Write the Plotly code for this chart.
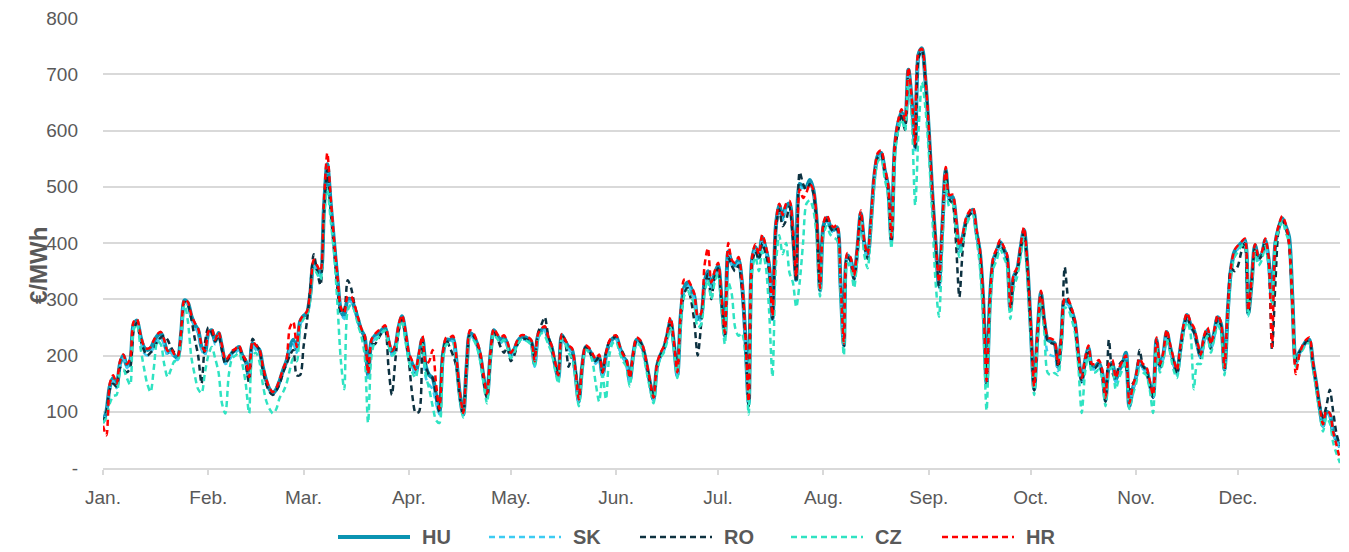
import pandas as pd
import plotly.graph_objects as go

# Daily prices 2022, €/MWh (one line per month)
hu = [
    82,100,145,160,145,185,200,182,190,255,262,235,215,210,213,225,235,240,225,205,210,200,196,240,298,293,270,255,245,215,205,
    240,245,225,240,215,190,195,205,210,215,200,190,160,222,215,210,180,156,140,133,140,155,174,190,215,228,210,260,
    270,275,310,365,355,345,460,540,470,400,335,280,270,300,300,285,265,245,233,165,225,235,240,245,250,225,205,215,250,270,240,
    200,185,170,200,230,180,165,160,130,100,200,228,228,230,190,130,95,180,240,235,222,200,160,128,200,245,235,228,232,220,
    200,210,225,232,233,230,225,185,235,245,250,230,215,185,160,236,225,215,210,170,118,180,215,210,200,190,198,165,200,222,230,
    233,215,198,190,155,200,228,225,210,182,150,122,180,200,212,235,262,220,165,270,320,330,320,305,265,270,330,350,322,345,
    360,300,235,385,365,360,370,330,235,115,370,393,375,410,390,360,265,430,467,445,465,470,418,335,505,500,500,512,495,440,316,
    430,445,430,423,428,330,218,378,370,338,390,453,400,375,440,520,555,560,530,500,405,570,613,633,613,708,650,571,735,746,690,
    600,490,400,325,430,530,480,482,440,390,411,440,453,459,420,385,300,150,300,370,385,402,390,375,281,340,352,390,423,360,
    250,140,240,311,260,228,225,222,180,230,298,295,280,258,200,155,190,213,180,180,187,170,120,180,187,156,174,185,205,110,140,
    162,190,180,175,150,127,228,180,200,242,215,190,169,210,250,272,255,245,220,198,230,245,215,240,268,255,175,280,357,385,
    393,400,405,275,330,396,375,380,405,370,298,400,428,444,430,411,300,187,205,215,225,228,187,150,108,75,100,95,62,50,37,
]
sk = [
    82,98,140,155,142,180,195,178,185,250,258,228,205,200,205,215,225,232,218,200,205,195,192,235,295,290,265,250,240,210,200,
    235,240,220,235,210,185,190,200,205,210,195,185,158,218,210,205,175,150,138,130,138,150,170,185,210,222,205,255,
    265,270,305,360,350,340,455,530,465,395,330,275,265,295,295,280,260,240,228,160,220,230,235,240,245,220,200,210,245,265,235,
    195,180,165,190,200,160,148,140,115,95,195,222,225,225,185,125,92,175,235,230,218,195,155,125,195,240,230,222,228,215,
    195,205,220,228,228,225,220,180,230,240,245,225,210,180,155,232,220,210,205,165,115,178,212,208,196,185,194,160,195,218,226,
    228,210,195,185,150,196,224,222,206,178,148,120,176,196,208,230,258,216,162,265,315,325,315,300,260,265,325,345,318,340,
    355,295,230,380,360,355,365,325,230,110,365,388,370,405,385,355,260,425,460,440,460,465,412,330,500,495,495,508,490,435,312,
    425,440,425,418,422,325,215,372,365,333,385,448,395,370,435,515,550,555,525,495,400,565,608,628,608,700,645,565,728,740,685,
    595,485,395,320,425,525,475,478,435,385,405,435,448,455,415,380,295,148,295,365,380,398,385,370,278,335,348,385,418,355,
    245,138,235,305,250,205,200,198,172,225,292,290,275,252,195,152,186,208,176,176,182,166,118,176,182,152,170,180,200,112,138,
    158,186,176,170,146,125,222,176,196,238,210,185,166,205,245,268,250,240,215,195,225,240,210,235,262,250,172,275,350,380,
    390,398,402,272,325,390,370,376,400,366,295,395,424,440,426,406,296,185,202,212,222,225,184,148,106,74,98,92,60,48,35,
]
ro = [
    80,100,140,150,145,178,175,170,178,245,258,230,210,200,205,212,225,232,235,228,215,205,200,240,295,290,265,230,200,150,222,
    250,240,225,235,210,185,195,205,210,215,200,185,150,230,220,210,175,150,135,130,138,150,170,185,200,210,165,165,
    215,260,320,380,350,325,450,530,460,390,320,275,282,334,320,290,265,245,225,175,220,220,230,240,245,180,130,190,245,265,235,
    190,130,98,100,225,180,165,160,130,100,200,228,215,200,180,125,95,180,238,235,222,200,155,125,195,240,232,215,205,215,
    190,200,220,228,230,228,225,195,240,255,268,235,215,185,165,236,225,180,200,175,120,180,215,210,195,190,198,170,205,225,230,
    235,215,205,190,160,200,228,225,210,182,150,125,180,200,212,235,260,220,170,265,310,320,300,260,200,255,320,345,300,340,
    355,295,235,375,360,350,360,320,235,110,365,385,370,400,380,350,265,425,460,430,440,465,410,330,526,505,495,505,490,435,316,
    428,442,428,420,425,328,216,375,368,335,388,450,398,372,438,518,552,557,528,498,402,568,600,630,601,705,648,568,730,742,688,
    598,488,398,322,428,528,478,470,400,304,390,438,450,456,418,382,298,148,298,368,382,400,388,372,280,338,350,388,420,358,
    248,138,238,308,258,226,222,220,178,228,357,300,278,256,198,153,188,210,178,178,185,168,118,228,170,160,183,190,180,140,150,
    160,210,182,172,148,125,225,178,198,240,212,188,167,208,248,270,252,242,218,196,228,242,212,238,265,252,173,278,355,350,
    360,385,400,272,328,392,370,378,402,368,210,330,426,442,428,400,295,190,205,214,224,226,186,150,112,90,110,139,100,60,40,
]
cz = [
    80,90,115,128,130,170,175,160,148,245,255,215,180,150,135,180,225,220,185,162,175,190,190,235,292,260,197,165,140,133,170,
    200,215,195,170,115,97,165,195,200,205,185,150,97,200,205,190,150,120,105,97,105,125,135,150,175,195,190,250,
    265,270,300,355,345,335,440,495,440,380,290,190,140,280,290,280,255,235,200,80,200,225,232,240,245,220,200,205,245,262,225,
    190,170,160,195,220,165,140,110,85,80,190,220,220,222,185,125,90,175,232,228,215,190,150,115,190,240,230,222,228,215,
    195,205,220,228,228,225,218,180,230,240,235,220,205,175,150,230,222,205,195,160,110,175,210,205,190,150,118,165,122,200,222,
    225,205,190,180,145,195,220,218,200,170,140,115,170,195,205,225,250,210,160,255,305,315,305,290,250,255,310,335,300,330,
    345,280,220,330,310,250,235,240,200,95,350,375,350,385,360,280,162,360,414,380,400,347,330,286,330,400,470,476,460,410,305,
    415,430,415,410,405,310,200,365,355,320,375,440,380,355,425,505,545,550,515,485,390,555,600,620,600,690,620,467,600,686,640,
    560,450,330,269,400,510,465,470,425,375,400,430,445,450,410,360,260,102,280,355,370,390,375,360,265,320,340,375,410,345,
    235,130,225,300,240,169,165,169,165,215,285,282,265,240,180,98,170,200,170,170,175,160,110,170,180,140,160,175,190,105,130,
    150,175,170,165,140,98,215,170,190,230,205,175,160,200,240,260,240,140,185,185,220,235,205,230,255,240,165,270,345,375,
    385,395,398,270,325,385,360,370,395,360,290,395,425,440,420,400,290,180,200,210,220,222,180,140,100,65,90,80,45,25,9,
]
hr = [
    75,58,150,165,150,190,202,185,195,260,265,238,218,212,215,228,238,242,228,208,212,202,198,245,300,295,272,258,248,218,208,
    242,248,228,242,218,192,198,208,212,218,202,192,162,225,218,212,182,158,142,135,142,158,176,192,250,260,215,262,
    272,278,315,370,360,350,470,560,480,405,340,285,275,305,305,290,268,248,236,168,228,238,244,248,254,230,208,218,255,272,244,
    205,190,175,205,235,185,190,210,150,105,205,232,232,235,195,135,98,185,245,240,226,205,165,132,205,248,238,232,236,224,
    205,214,228,236,236,233,228,190,238,248,252,234,218,190,165,238,228,218,213,175,122,184,218,214,204,194,202,170,204,226,234,
    236,218,202,194,160,204,232,228,214,186,154,125,184,204,216,240,268,224,170,278,335,335,325,310,270,275,360,391,330,350,
    365,305,240,400,370,365,375,335,240,118,375,398,380,415,395,365,270,435,470,450,470,475,422,340,495,480,490,505,495,445,320,
    435,450,435,428,432,335,222,382,374,342,395,458,404,380,445,525,560,565,535,505,410,575,618,638,618,712,655,575,740,745,695,
    605,495,405,330,435,535,485,486,445,395,415,445,457,463,425,390,305,155,305,375,390,406,394,380,286,345,356,395,428,365,
    255,145,245,315,265,232,230,226,185,235,302,300,284,262,205,160,195,218,185,185,192,175,125,185,192,160,178,190,200,115,145,
    166,195,185,180,155,130,232,185,205,246,220,195,174,215,255,276,260,250,225,202,235,250,220,245,272,258,178,285,360,388,
    396,402,408,280,335,398,378,384,408,374,215,402,432,448,434,400,290,167,200,218,228,232,190,152,110,78,102,97,64,40,15,
]

month_ticks = ["2022-%02d-01" % m for m in range(1, 13)]
month_labels = ["Jan.", "Feb.", "Mar.", "Apr.", "May.", "Jun.", "Jul.", "Aug.", "Sep.", "Oct.", "Nov.", "Dec."]
y_ticks = [0, 100, 200, 300, 400, 500, 600, 700, 800]
y_labels = ["-", "100", "200", "300", "400", "500", "600", "700", "800"]

series = [
    ("HU", hu, "#0A94B2", 4, "solid"),
    ("SK", sk, "#3CCBF2", 2.5, "6px,4px"),
    ("RO", ro, "#0D3140", 2.5, "6px,4px"),
    ("CZ", cz, "#2FE3C2", 2.5, "6px,4px"),
    ("HR", hr, "#FF0000", 2.5, "6px,4px"),
]

W, H = 1349, 552
ML, MR, MT, MB = 103, 9, 18, 84
PW, PH = W - ML - MR, H - MT - MB

def px_x(p):
    return (p - ML) / PW

def px_y(p):
    return (H - MB - p) / PH

fig = go.Figure()
shapes = []
annotations = []
for i, (name, vals, color, width, dash) in enumerate(series):
    x = pd.date_range("2022-01-01", periods=len(vals), freq="D")
    fig.add_trace(go.Scatter(
        x=x, y=vals, name=name, mode="lines", showlegend=False,
        line=dict(color=color, width=width, dash=dash, shape="spline", smoothing=0.8),
        hoverinfo="x+y+name",
    ))
    # legend entry drawn as shape + label
    x0 = 338 + 151 * i
    ly = 537
    shapes.append(dict(
        type="line", xref="paper", yref="paper",
        x0=px_x(x0), x1=px_x(x0 + 72), y0=px_y(ly), y1=px_y(ly),
        line=dict(color=color, width=width, dash=dash),
    ))
    annotations.append(dict(
        text="<b>%s</b>" % name, xref="paper", yref="paper",
        x=px_x(x0 + 82), y=px_y(ly), xanchor="left", yanchor="middle",
        showarrow=False, font=dict(size=20, color="#595959"),
    ))

annotations.append(dict(
    text="<b>€/MWh</b>", textangle=-90, xref="paper", yref="paper",
    x=px_x(38), y=px_y(266), xanchor="center", yanchor="middle", showarrow=False,
    font=dict(size=24, color="#595959"),
))

font_family = "Liberation Sans, Arial, sans-serif"
fig.update_layout(
    width=W, height=H, autosize=False,
    margin=dict(l=ML, r=MR, t=MT, b=MB, autoexpand=False),
    paper_bgcolor="white", plot_bgcolor="white",
    font=dict(family=font_family, size=19, color="#595959"),
    showlegend=False,
    xaxis=dict(
        type="date", range=["2022-01-01", "2022-12-31"],
        tickvals=month_ticks, ticktext=month_labels,
        showgrid=False, showline=True, linecolor="#D9D9D9", linewidth=1.5,
        ticks="outside", ticklen=5, tickcolor="#D9D9D9", tickwidth=1.5,
        tickfont=dict(size=19, color="#595959"), ticklabelstandoff=6,
        zeroline=False, automargin=False,
    ),
    yaxis=dict(
        range=[0, 800], tickvals=y_ticks, ticktext=y_labels,
        showgrid=True, gridcolor="#D9D9D9", gridwidth=1.5,
        zeroline=False, showline=False, ticks="",
        tickfont=dict(size=19, color="#595959"), ticklabelstandoff=24,
        automargin=False,
    ),
    shapes=shapes,
    annotations=annotations,
)

fig.write_html(
    "out.html",
    config={"displayModeBar": False},
    post_script="document.body.style.margin='0';document.body.style.overflow='hidden';",
)
